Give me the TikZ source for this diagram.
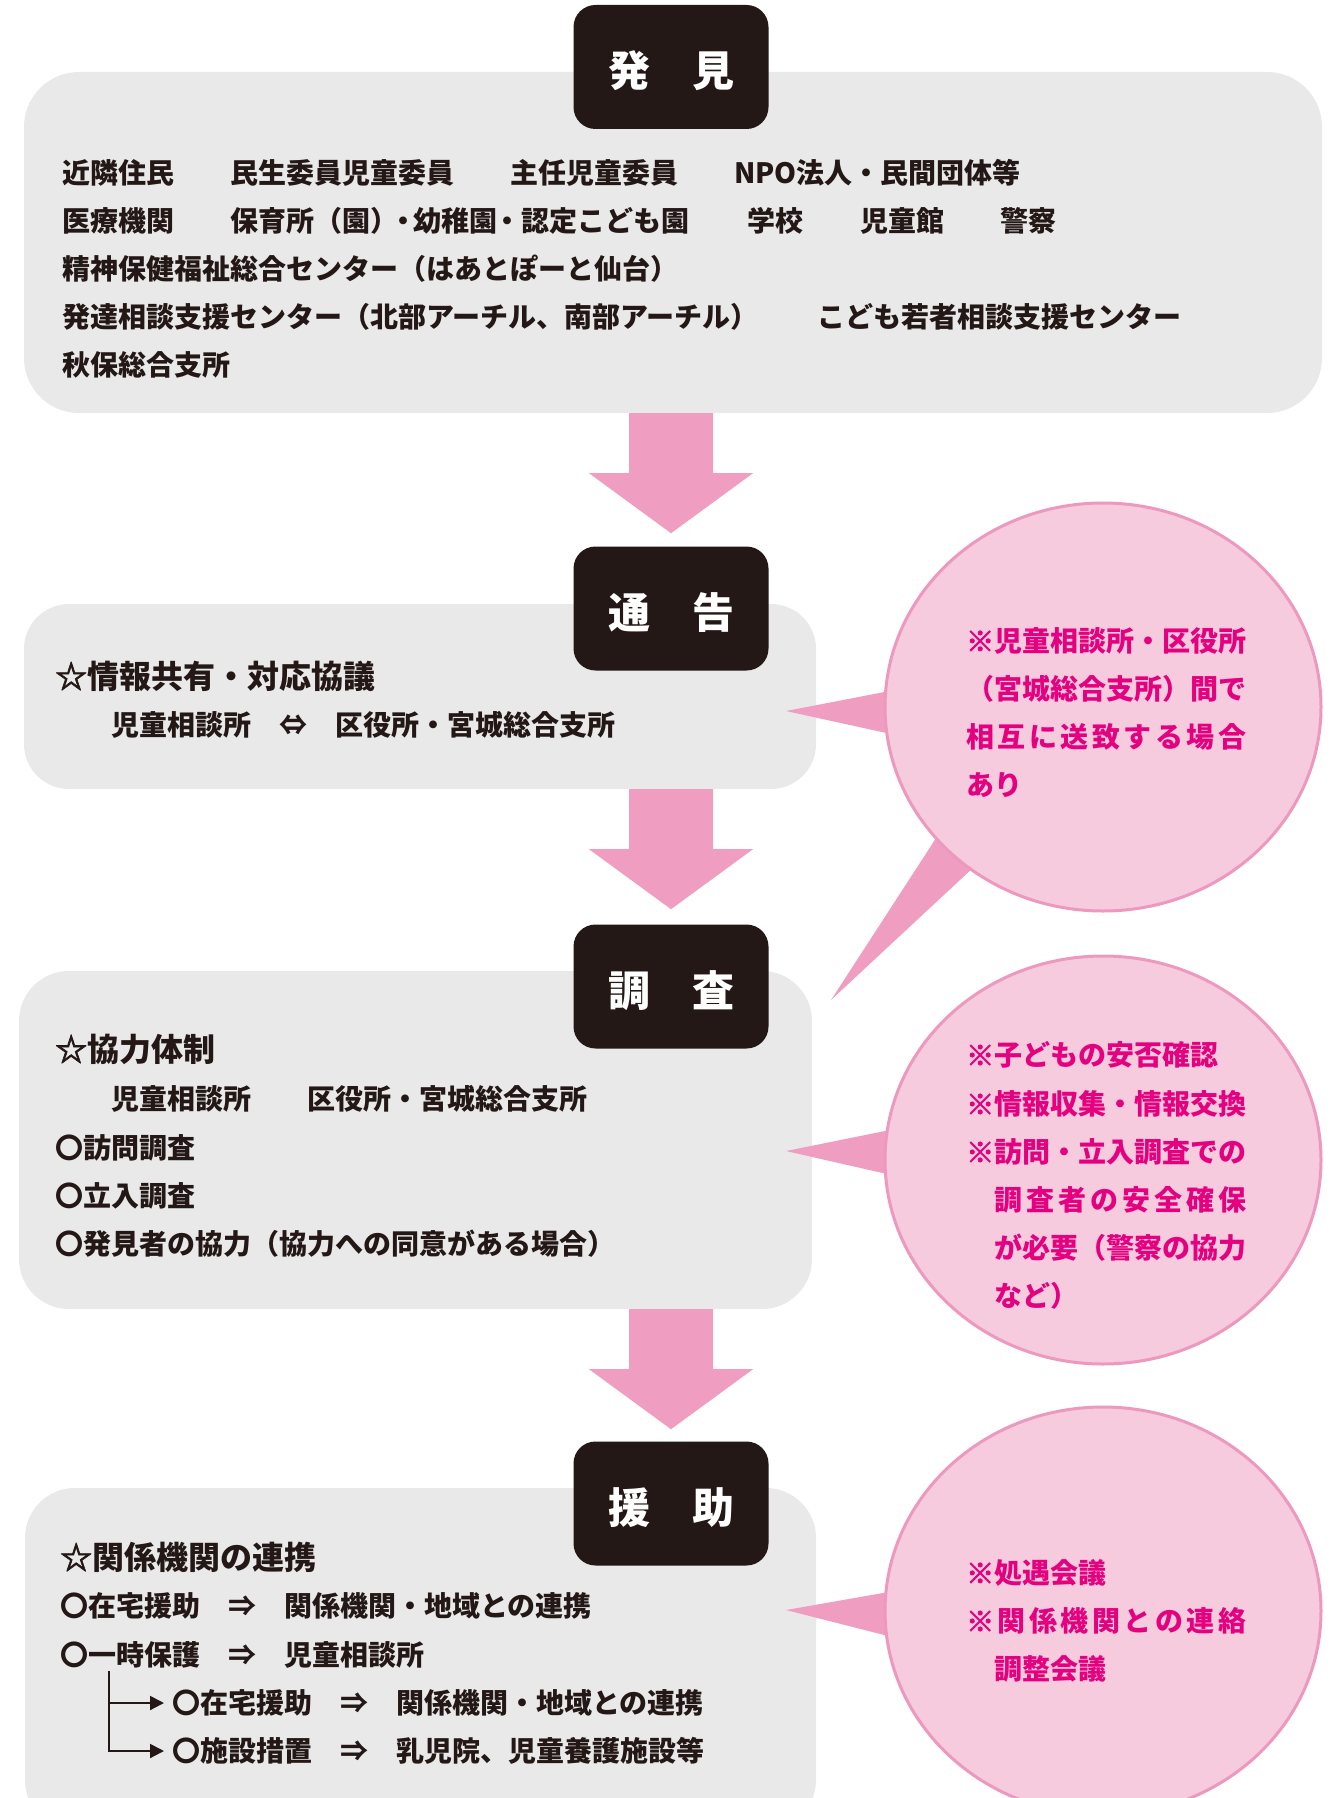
\documentclass[tikz,border=0pt]{standalone}
\usepackage{fontspec}
\setmainfont{Noto Sans CJK JP}
\newfontfamily\starfont[FakeBold=2]{Noto Sans CJK JP}
\newfontfamily\komefont[FakeBold=3]{Noto Sans CJK JP}
\usetikzlibrary{shapes.geometric,arrows.meta,calc}
\definecolor{greybg}{HTML}{E9E9EA}
\definecolor{labelbg}{HTML}{231815}
\definecolor{arrowpink}{HTML}{F09DC2}
\definecolor{bubblefill}{HTML}{F6CBDE}
\definecolor{bubbleline}{HTML}{ED98BF}
\definecolor{magentatext}{HTML}{E4007F}
\definecolor{darktext}{HTML}{231815}
\newcommand\blockarrow[2]{%
  \fill[arrowpink] let \p1=(#1.south), \p2=(#2.center) in
    (\x2-42pt,\y1) -- (\x2+42pt,\y1) -- (\x2+42pt,\y1-60pt) -- (\x2+82pt,\y1-60pt)
    -- (\x2,\y1-120pt) -- (\x2-82pt,\y1-60pt) -- (\x2-42pt,\y1-60pt) -- cycle;}
\newcommand\wstar{{\starfont ☆}}
\newcommand\kome{{\komefont ※}}
\newcommand\labtext[1]{\raisebox{-4pt}[\height][\depth]{#1}}
\begin{document}
\begin{tikzpicture}[x=1pt,y=-1pt,
  greybox/.style={fill=greybg, draw=none, inner sep=0},
  stagelabel/.style={fill=labelbg, rounded corners=22pt, minimum width=195pt, minimum height=124pt, inner sep=0, text=white, font=\bfseries\fontsize{42pt}{42pt}\selectfont},
  bodytext/.style={anchor=west, inner sep=0, text=darktext, font=\bfseries\fontsize{28pt}{28pt}\selectfont},
  headtext/.style={anchor=west, inner sep=0, text=darktext, font=\bfseries\fontsize{32pt}{32pt}\selectfont},
  bubble/.style={ellipse, fill=bubblefill, draw=bubbleline, line width=3pt, minimum width=436pt, minimum height=408pt, inner sep=0},
  bubbletext/.style={anchor=west, inner sep=0, text=magentatext, font=\bfseries\fontsize{28pt}{28pt}\selectfont},
  tail/.style={fill=arrowpink},
  treeline/.style={draw=darktext, line width=2pt, -{Triangle[length=14pt,width=14pt]}}
]
\useasboundingbox (0,0) rectangle (1335,1798);
\clip (0,0) rectangle (1335,1798);
\fill[white] (0,0) rectangle (1335,1798);

% grey boxes
\node[greybox, rounded corners=55pt, minimum width=1298pt, minimum height=341pt] (box1) at (673,242.5) {};
\node[greybox, rounded corners=45pt, minimum width=792pt, minimum height=185pt] (box2) at (420,696.5) {};
\node[greybox, rounded corners=50pt, minimum width=793pt, minimum height=338pt] (box3) at (415.5,1140) {};
\node[greybox, rounded corners=50pt, minimum width=791pt, minimum height=342pt] (box4) at (420.5,1659) {};

% stage labels
\node[stagelabel] (lab1) at (671,67) {\labtext{発　見}};
\node[stagelabel] (lab2) at (671,608.5) {\labtext{通　告}};
\node[stagelabel] (lab3) at (671,986.5) {\labtext{調　査}};
\node[stagelabel] (lab4) at (671,1503.5) {\labtext{援　助}};

% block arrows
\blockarrow{box1}{lab2}
\blockarrow{box2}{lab3}
\blockarrow{box3}{lab4}

% speech bubble tails
\coordinate (t1) at (786,711);
\coordinate (t2) at (831,1000);
\coordinate (t3) at (786,1151);
\coordinate (t4) at (786,1610);
\node[inner sep=0, minimum size=0] (e1c) at (1103,707) {};
\node[inner sep=0, minimum size=0] (e2c) at (1103,1160) {};
\node[inner sep=0, minimum size=0] (e3c) at (1103,1611) {};
\fill[tail] (t1) -- ($(e1c)+(-203,-18)$) -- ($(e1c)+(-203,29)$) -- cycle;
\fill[tail] (t2) -- ($(e1c)+(-163,125)$) -- ($(e1c)+(-128,159)$) -- cycle;
\fill[tail] (t3) -- ($(e2c)+(-203,-32)$) -- ($(e2c)+(-203,17)$) -- cycle;
\fill[tail] (t4) -- ($(e3c)+(-203,-21)$) -- ($(e3c)+(-203,28)$) -- cycle;

% bubbles
\node[bubble] (e1) at (e1c) {};
\node[bubble] (e2) at (e2c) {};
\node[bubble] (e3) at (e3c) {};

% box 1 text
\node[bodytext] (b1a) at (62,173) {近隣住民};
\node[bodytext] (b1b) at (230,173) {民生委員児童委員};
\node[bodytext] (b1c) at (510,173) {主任児童委員};
\node[bodytext] (b1d) at (734,173) {NPO法人・民間団体等};
\node[bodytext] (b1e) at (62,221) {医療機関};
\node[bodytext] (b1f) at (230,221) {保育所（園）\kern-0.3em・\kern-0.15em幼稚園\kern-0.15em・認定こども園};
\node[bodytext] (b1g) at (747,221) {学校};
\node[bodytext] (b1h) at (860,221) {児童館};
\node[bodytext] (b1i) at (1000,221) {警察};
\node[bodytext] (b1j) at (62,269) {精神保健福祉総合センター（はあとぽーと仙台）};
\node[bodytext] (b1k) at (62,317) {発達相談支援センター（北部アーチル、南部アーチル）};
\node[bodytext] (b1l) at (817,317) {こども若者相談支援センター};
\node[bodytext] (b1m) at (62,365) {秋保総合支所};

% box 2 text
\node[headtext] (b2a) at (55,676) {\wstar 情報共有・対応協議};
\node[bodytext] (b2b) at (111,725) {児童相談所　⇔　区役所・宮城総合支所};

% box 3 text
\node[headtext] (b3a) at (55,1049) {\wstar 協力体制};
\node[bodytext] (b3b) at (111,1099) {児童相談所　　区役所・宮城総合支所};
\node[bodytext] (b3c) at (55,1148) {〇訪問調査};
\node[bodytext] (b3d) at (55,1196) {〇立入調査};
\node[bodytext] (b3e) at (55,1244) {〇発見者の協力（協力への同意がある場合）};

% box 4 text
\node[headtext] (b4a) at (60,1557) {\wstar 関係機関の連携};
\node[bodytext] (b4b) at (60,1606) {〇在宅援助　⇒　関係機関・地域との連携};
\node[bodytext] (b4c) at (60,1655) {〇一時保護　⇒　児童相談所};
\node[bodytext] (sub1) at (172,1703) {〇在宅援助　⇒　関係機関・地域との連携};
\node[bodytext] (sub2) at (172,1751) {〇施設措置　⇒　乳児院、児童養護施設等};
\coordinate (treetop) at (109,1671);
\draw[treeline] (treetop) |- ([xshift=-8pt]sub1.west);
\draw[treeline] (treetop) |- ([xshift=-8pt]sub2.west);

% bubble texts
\node[bubbletext] (e1a) at (966,641) {\kome 児童相談所・区役所};
\node[bubbletext] (e1b) at (966,689) {（宮城総合支所）間で};
\node[bubbletext] (e1c2) at (966,737) {\makebox[280pt][s]{相\hfill 互\hfill に\hfill 送\hfill 致\hfill す\hfill る\hfill 場\hfill 合}};
\node[bubbletext] (e1d) at (966,785) {あり};

\node[bubbletext] (e2a) at (966,1055) {\kome 子どもの安否確認};
\node[bubbletext] (e2b) at (966,1104) {\kome 情報収集・情報交換};
\node[bubbletext] (e2c2) at (966,1152) {\kome 訪問・立入調査での};
\node[bubbletext] (e2d) at (994,1200) {\makebox[252pt][s]{調\hfill 査\hfill 者\hfill の\hfill 安\hfill 全\hfill 確\hfill 保}};
\node[bubbletext] (e2e) at (994,1248) {が必要（警察の協力};
\node[bubbletext] (e2f) at (994,1296) {など）};

\node[bubbletext] (e3a) at (966,1573) {\kome 処遇会議};
\node[bubbletext] (e3b) at (966,1621) {\makebox[280pt][s]{\kome\hfill 関\hfill 係\hfill 機\hfill 関\hfill と\hfill の\hfill 連\hfill 絡}};
\node[bubbletext] (e3d) at (994,1669) {調整会議};
\end{tikzpicture}
\end{document}
